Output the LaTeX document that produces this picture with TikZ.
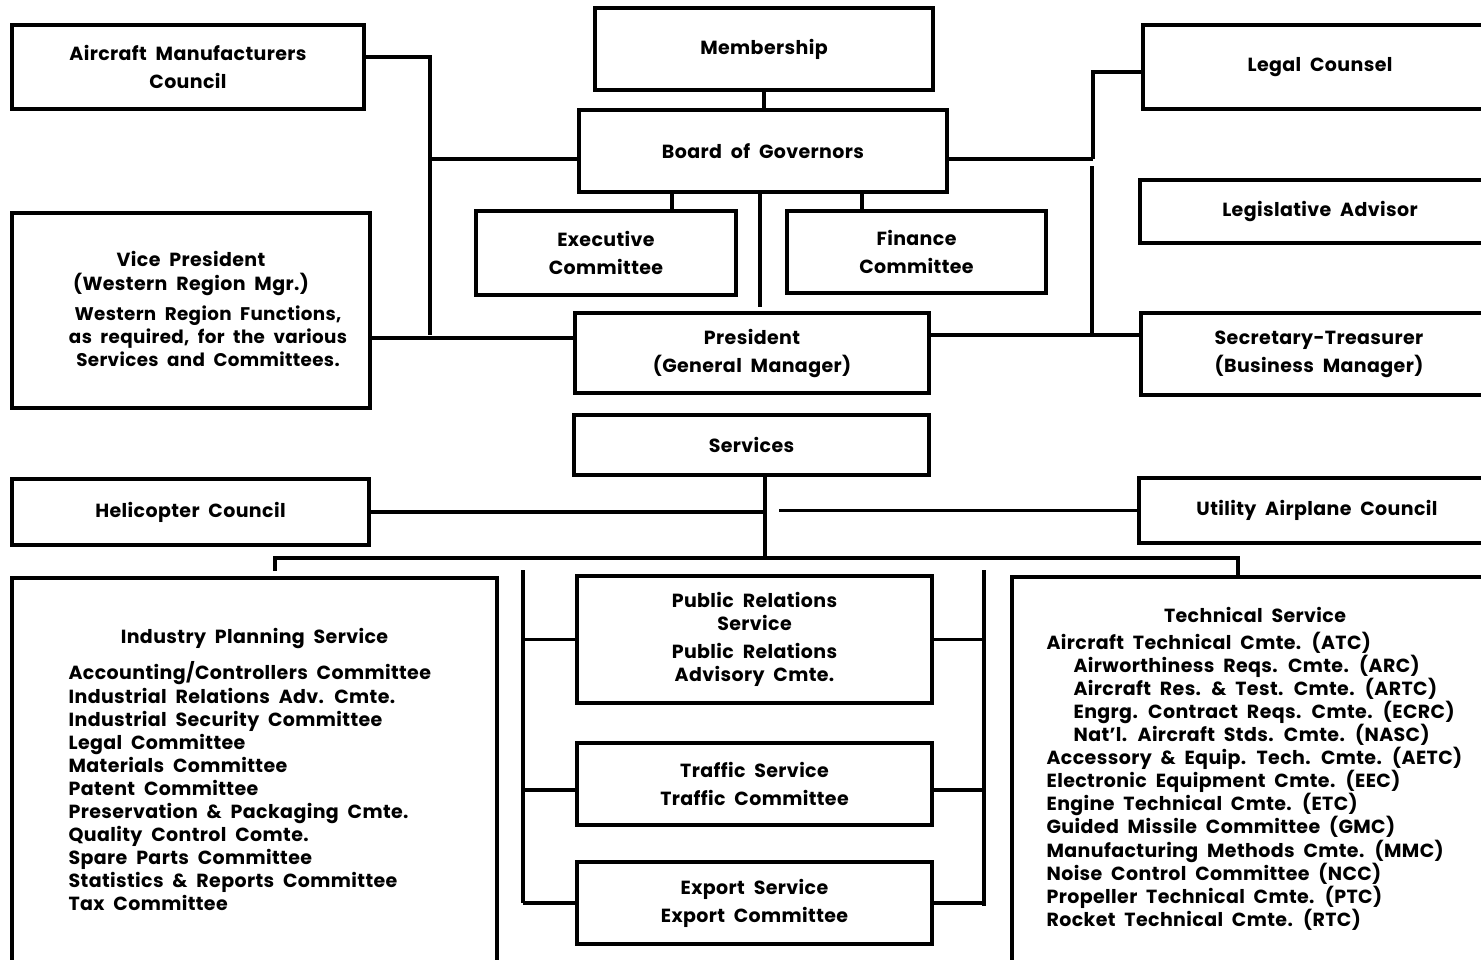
\documentclass[tikz,border=0pt]{standalone}
\usepackage{fontspec}
\setmainfont{Poppins}[LetterSpace=2.0, WordSpace=2.0]
\begin{document}
\begin{tikzpicture}[x=1pt,y=-1pt,
  line width=3.2pt,
  box/.style={draw, line width=3.2pt, align=center, inner sep=0pt,
    font=\fontsize{19}{28}\selectfont\bfseries},
  txt/.style={inner sep=0pt, font=\fontsize{19}{23.1}\selectfont\bfseries},
  conn/.style={line width=3.2pt}]
\useasboundingbox (0,0) rectangle (1481,959);
% top
\node[box, minimum width=352pt, minimum height=84pt] (amc) at (188,67) {Aircraft Manufacturers\\Council};
\node[box, minimum width=338pt, minimum height=82pt] (mem) at (764,49) {Membership};
\node[box, minimum width=368pt, minimum height=82pt] (bog) at (763,151) {Board of Governors};
\node[box, minimum width=354pt, minimum height=84pt] (legal) at (1320,67) {Legal Counsel};
\node[box, minimum width=360pt, minimum height=63pt] (legis) at (1320,211.5) {Legislative Advisor};
\node[box, minimum width=358pt, minimum height=195pt] (vp) at (191,310.5) {};
\node[txt, align=center] (vpt) at (191,273.5) {Vice President\\(Western Region Mgr.)};
\node[txt, align=center, font=\fontsize{18.3}{23.1}\selectfont\bfseries] (vpd) at (208,336) {Western Region Functions,\\as required, for the various\\Services and Committees.};
\node[box, minimum width=260pt, minimum height=84pt] (exec) at (606,253) {Executive\\Committee};
\node[box, minimum width=259pt, minimum height=82pt] (fin) at (916.5,252) {Finance\\Committee};
\node[box, minimum width=354pt, minimum height=80pt] (pres) at (752,353) {President\\(General Manager)};
\node[box, minimum width=356pt, minimum height=82pt] (sec) at (1319,354) {Secretary-Treasurer\\(Business Manager)};
\node[box, minimum width=355pt, minimum height=60pt] (serv) at (751.5,445) {Services};
\node[box, minimum width=357pt, minimum height=66pt] (heli) at (190.5,512) {Helicopter Council};
\node[box, minimum width=356pt, minimum height=65pt] (util) at (1317,510.5) {Utility Airplane Council};
% bottom
\node[box, minimum width=485pt, minimum height=402pt] (ips) at (254.5,779) {};
\node[txt] (ipst) at (254.5,638) {Industry Planning Service};
\node[txt, anchor=west, align=left] (ipsl) at (67,786.5) {Accounting/Controllers Committee\\Industrial Relations Adv. Cmte.\\Industrial Security Committee\\Legal Committee\\Materials Committee\\Patent Committee\\Preservation \& Packaging Cmte.\\Quality Control Comte.\\Spare Parts Committee\\Statistics \& Reports Committee\\Tax Committee};
\node[box, minimum width=355pt, minimum height=127pt, font=\fontsize{19}{23.5}\selectfont\bfseries] (pr) at (754.5,639.5) {Public Relations\\Service\\[4pt]Public Relations\\Advisory Cmte.};
\node[box, minimum width=355pt, minimum height=82pt] (tr) at (754.5,784) {Traffic Service\\Traffic Committee};
\node[box, minimum width=355pt, minimum height=82pt] (ex) at (754.5,903) {Export Service\\Export Committee};
\node[box, minimum width=488pt, minimum height=403pt] (tech) at (1256,778.5) {};
\node[txt] (techt) at (1255,615) {Technical Service};
\node[txt, anchor=west, align=left] (techl) at (1045,781) {Aircraft Technical Cmte. (ATC)\\\hspace*{27pt}Airworthiness Reqs. Cmte. (ARC)\\\hspace*{27pt}Aircraft Res. \& Test. Cmte. (ARTC)\\\hspace*{27pt}Engrg. Contract Reqs. Cmte. (ECRC)\\\hspace*{27pt}Nat'l. Aircraft Stds. Cmte. (NASC)\\Accessory \& Equip. Tech. Cmte. (AETC)\\Electronic Equipment Cmte. (EEC)\\Engine Technical Cmte. (ETC)\\Guided Missile Committee (GMC)\\Manufacturing Methods Cmte. (MMC)\\Noise Control Committee (NCC)\\Propeller Technical Cmte. (PTC)\\Rocket Technical Cmte. (RTC)};
% coordinates
\coordinate (Lb) at (430,335);
\coordinate (Rb) at (1093,159);
\coordinate (Rc1) at (1092,166);
\coordinate (Rc2) at (1092,333);
\coordinate (Pg) at (760,307);
\coordinate (S) at (765,558);
\coordinate (Sg) at (779,511);
\coordinate (B1) at (275,571);
\coordinate (B2) at (1238,576);
\coordinate (CL1) at (523,570);
\coordinate (CL2) at (523,903);
\coordinate (CR1) at (984,570);
\coordinate (CR2) at (984,906);
% connectors
\draw[conn] (mem.south) -- (mem.south |- bog.north);
\draw[conn] ([yshift=10pt]amc.east) -| (Lb);
\draw[conn] ([yshift=-8pt]bog.west) -- ([yshift=-8pt]bog.west -| Lb);
\draw[conn] ([yshift=15pt]pres.west) -- ([yshift=15pt]pres.west -| vp.east);
\draw[conn] ([yshift=-5pt]legal.west) -| (Rb);
\draw[conn] ([yshift=-8pt]bog.east) -- (Rb);
\draw[conn] (Rc1) -- (Rc2);
\draw[conn] ([yshift=18pt]pres.east) -- ([yshift=18pt]pres.east -| sec.west);
\draw[conn] ([xshift=66pt]exec.north) -- ([xshift=66pt]exec.north |- bog.south);
\draw[conn] ([xshift=-54.5pt]fin.north) -- ([xshift=-54.5pt]fin.north |- bog.south);
\draw[conn] (bog.south -| Pg) -- (Pg);
\draw[conn] (serv.south -| S) -- (S);
\draw[conn] (heli.east) -- (heli.east -| S);
\draw[conn] (util.west) -- (util.west -| Sg);
\draw[conn] (B1) |- (S) -| (B2);
\draw[conn] (CL1) -- (CL2);
\draw[conn] (CR1) -- (CR2);
\draw[conn] (pr.west) -- (pr.west -| CL1);
\draw[conn] ([yshift=-6pt]tr.west) -- ([yshift=-6pt]tr.west -| CL1);
\draw[conn] (ex.west) -- (ex.west -| CL1);
\draw[conn] (pr.east) -- (pr.east -| CR1);
\draw[conn] ([yshift=-6pt]tr.east) -- ([yshift=-6pt]tr.east -| CR1);
\draw[conn] (ex.east) -- (ex.east -| CR1);
\end{tikzpicture}
\end{document}
